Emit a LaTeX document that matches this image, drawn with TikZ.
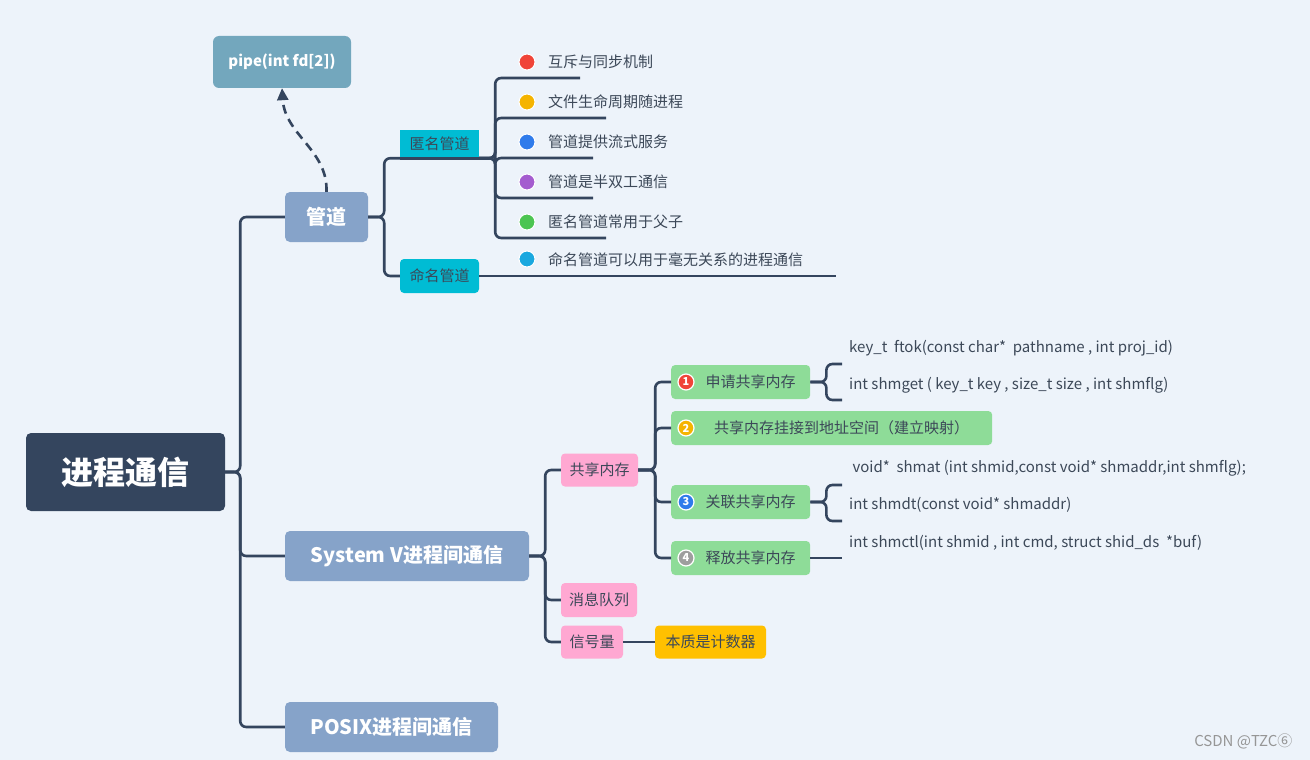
\documentclass[tikz,border=0pt]{standalone}
\usepackage{fontspec}
\setmainfont{Noto Sans CJK SC}
\usetikzlibrary{arrows.meta}
\definecolor{bg}{HTML}{EDF3FA}
\definecolor{ln}{HTML}{34455E}
\definecolor{mainb}{HTML}{86A3C9}
\definecolor{pipeb}{HTML}{73A7BD}
\definecolor{cyanb}{HTML}{00BCD4}
\definecolor{pinkb}{HTML}{FFA8D2}
\definecolor{greenb}{HTML}{8EDC98}
\definecolor{orangeb}{HTML}{FFC000}
\definecolor{txt}{HTML}{3C4858}
\begin{document}
\begin{tikzpicture}[x=1pt,y=-1pt,
  conn/.style={draw=ln,line width=2.6pt,rounded corners=6pt},
  main/.style={fill=mainb,rounded corners=5pt,text=white,font=\fontsize{20}{24}\selectfont\bfseries,inner sep=0pt,minimum height=50pt},
  sub/.style={rounded corners=4pt,text=txt,font=\fontsize{15}{18}\selectfont,inner sep=0pt,minimum height=34pt},
  lab/.style={text=txt,font=\fontsize{15}{18}\selectfont,inner sep=0pt,anchor=west},
  dot/.style={circle,inner sep=0pt,minimum size=16pt,draw=white,line width=1pt},
  num/.style={circle,inner sep=0pt,minimum size=16pt,draw=white,line width=1.2pt,text=white,font=\fontsize{11}{12}\selectfont\bfseries}]
\fill[bg] (0,0) rectangle (1310,760);
\useasboundingbox (0,0) rectangle (1310,760);
% nodes
\node[fill=ln,rounded corners=5pt,text=white,font=\fontsize{32}{36}\selectfont\bfseries,minimum width=199pt,minimum height=78pt,inner sep=0pt] (root) at (125.5,472) {进程通信};
\node[main,minimum width=83pt] (pd) at (326.5,217) {管道};
\node[main,minimum width=244pt] (sv) at (407,556) {System V进程间通信};
\node[main,minimum width=213pt] (px) at (391.5,727) {POSIX进程间通信};
\node[fill=pipeb,rounded corners=6pt,text=white,font=\fontsize{15}{18}\selectfont\bfseries,minimum width=138pt,minimum height=52pt,inner sep=0pt] (pipe) at (282,62) {pipe(int fd[2])};
\node[sub,fill=cyanb,rounded corners=0pt,minimum width=79pt,minimum height=28pt] (nm) at (439.5,144) {匿名管道};
\node[sub,fill=cyanb,minimum width=79pt] (mm) at (439.5,276) {命名管道};
% pipe items
\foreach \i/\y/\e/\c/\t in {1/62/580/F04438/互斥与同步机制,2/102/606/F5B400/文件生命周期随进程,3/142/593/2F7BEB/管道提供流式服务,4/182/593/A45CCF/管道是半双工通信,5/222/606/4CC552/匿名管道常用于父子}{
  \definecolor{cc}{HTML}{\c}
  \node[dot,fill=cc] (d\i) at (527,\y) {};
  \node[lab] (t\i) at (548,\y) {\t};
  \coordinate (u\i) at (\e,\y+16);
}
\node[dot,fill={rgb,255:red,26;green,168;blue,223}] (d6) at (527,259) {};
\node[lab] (t6) at (548,260) {命名管道可以用于毫无关系的进程通信};
\coordinate (u6) at (836,276);
% system V
\node[sub,fill=pinkb,minimum width=77pt,minimum height=33pt] (gx) at (599.5,470) {共享内存};
\node[sub,fill=pinkb,minimum width=76pt] (xx) at (599,600) {消息队列};
\node[sub,fill=pinkb,minimum width=62pt,minimum height=33pt] (xh) at (592,642) {信号量};
\node[sub,fill=orangeb,minimum width=111pt,minimum height=33pt] (js) at (710.5,642) {本质是计数器};
\node[sub,fill=greenb,minimum width=139pt,anchor=west] (g1) at (671,382) {\hspace*{34pt}申请共享内存\hspace*{14pt}};
\node[sub,fill=greenb,minimum width=321pt,anchor=west] (g2) at (671,428) {\hspace*{34pt}共享内存挂接到地址空间（建立映射）\hspace*{14pt}};
\node[sub,fill=greenb,minimum width=139pt,anchor=west] (g3) at (671,502) {\hspace*{34pt}关联共享内存\hspace*{14pt}};
\node[sub,fill=greenb,minimum width=139pt,anchor=west] (g4) at (671,558) {\hspace*{34pt}释放共享内存\hspace*{14pt}};
\foreach \i/\y/\c in {1/382/F04438,2/428/F5B400,3/502/2F7BEB,4/558/9E9E9E}{
  \definecolor{cc}{HTML}{\c}
  \node[num,fill=cc] (n\i) at (686,\y) {\i};
}
\node[lab] (f1) at (849,348) {key\_t\ \ ftok(const char*\ \ pathname , int proj\_id)};
\node[lab] (f2) at (849,385) {int shmget ( key\_t key , size\_t size , int shmflg)};
\node[lab] (f3) at (849,468) {\ void*\ \ shmat (int shmid,const void* shmaddr,int shmflg);};
\node[lab] (f4) at (849,505) {int shmdt(const void* shmaddr)};
\node[lab] (f5) at (849,543) {int shmctl(int shmid , int cmd, struct shid\_ds\ \ *buf)};
\coordinate (b1) at (842,364); \coordinate (b2) at (842,400);
\coordinate (b3) at (842,485); \coordinate (b4) at (842,521);
\coordinate (b5) at (842,558);
% connectors
\draw[conn] (root.east) -- ++(15,0) |- (pd.west);
\draw[conn] (root.east) -- ++(15,0) |- (sv.west);
\draw[conn] (root.east) -- ++(15,0) |- (px.west);
\draw[ln,line width=2.6pt,dash pattern=on 9pt off 6pt,-{Triangle[length=12pt,width=11pt]}] (pd.north) .. controls (328,150) and (285,135) .. (pipe.south);
\draw[conn] (pd.east) -- ++(16,0) |- (nm.south west);
\draw[conn] (pd.east) -- ++(16,0) |- (mm.west);
\draw[ln,line width=2.6pt] (nm.south west) -- (nm.south east);
\foreach \i in {1,...,5}{\draw[conn] (nm.south east) -- ++(16,0) |- (u\i);}
\draw[conn] (mm.east) -- (u6);
\draw[conn] (sv.east) -- ++(16,0) |- (gx.west);
\draw[conn] (sv.east) -- ++(16,0) |- (xx.west);
\draw[conn] (sv.east) -- ++(16,0) |- (xh.west);
\draw[conn] (xh.east) -- (js.west);
\foreach \i in {1,...,4}{\draw[conn] (gx.east) -- ++(17,0) |- (g\i.west);}
\draw[conn] (g1.east) -- ++(16,0) |- (b1);
\draw[conn] (g1.east) -- ++(16,0) |- (b2);
\draw[conn] (g3.east) -- ++(16,0) |- (b3);
\draw[conn] (g3.east) -- ++(16,0) |- (b4);
\draw[conn] (g4.east) -- (b5);
\node[text={rgb,255:red,150;green,150;blue,150},font=\fontsize{15}{18}\selectfont,anchor=east] (wm) at (1296,741) {CSDN @TZC⑥};
\end{tikzpicture}
\end{document}
